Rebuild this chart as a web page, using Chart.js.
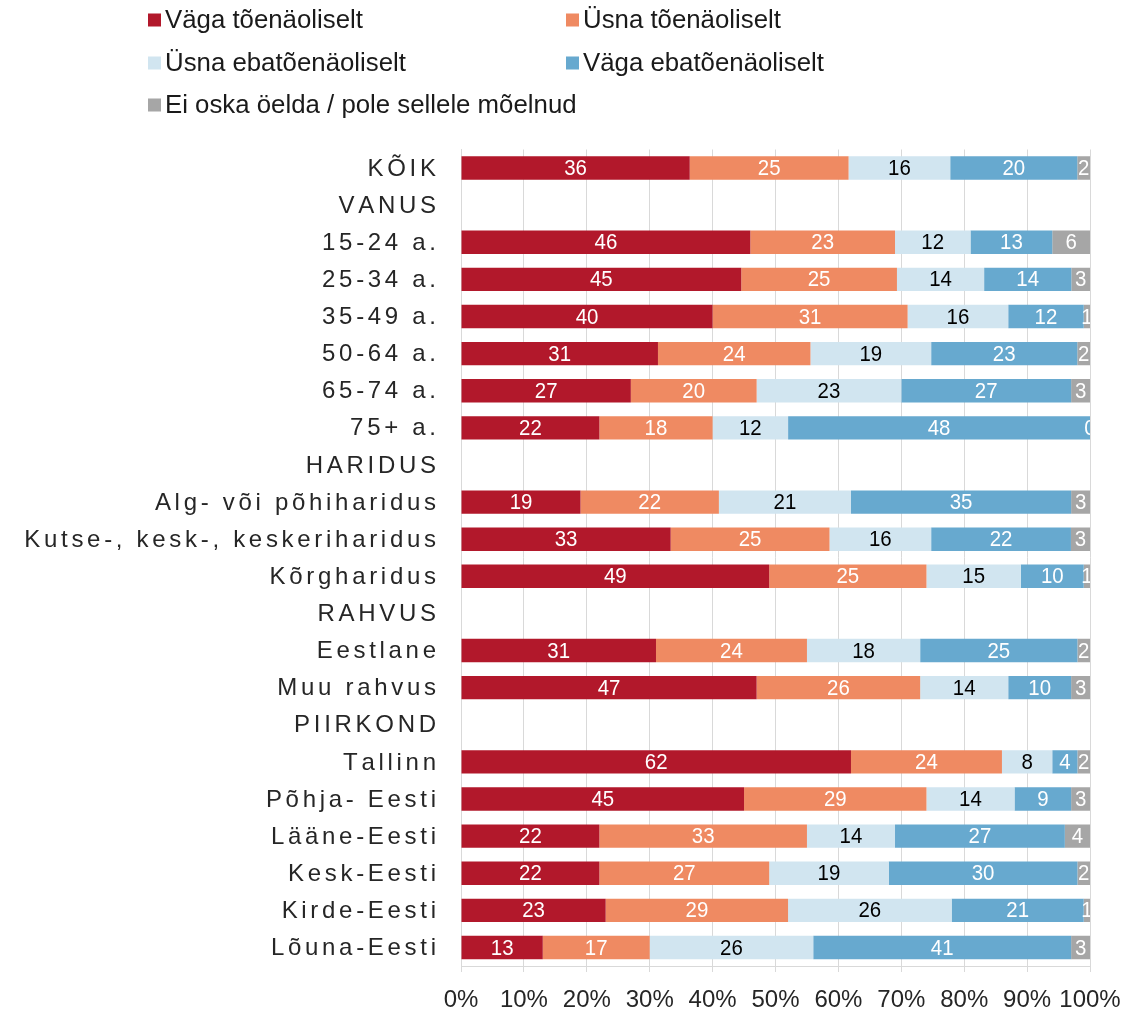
<!DOCTYPE html>
<html>
<head>
<meta charset="utf-8">
<script src="https://cdn.jsdelivr.net/npm/chart.js@4/dist/chart.umd.min.js"></script>
<style>
  html, body { margin: 0; padding: 0; background: #fff; }
  #wrap { width: 1145px; height: 1009px; position: relative; }
</style>
</head>
<body>
<div id="wrap"><canvas id="chart"></canvas></div>
<script>
// rows; group headers have no bars (null values)
const categories = [
    'KÕIK', 'VANUS', '15-24 a.', '25-34 a.', '35-49 a.', '50-64 a.', '65-74 a.', '75+ a.',
    'HARIDUS', 'Alg- või põhiharidus', 'Kutse-, kesk-, keskeriharidus', 'Kõrgharidus',
    'RAHVUS', 'Eestlane', 'Muu rahvus',
    'PIIRKOND', 'Tallinn', 'Põhja- Eesti', 'Lääne-Eesti', 'Kesk-Eesti', 'Kirde-Eesti', 'Lõuna-Eesti'
];

const seriesNames = [
    'Väga tõenäoliselt', 'Üsna tõenäoliselt', 'Üsna ebatõenäoliselt',
    'Väga ebatõenäoliselt', 'Ei oska öelda / pole sellele mõelnud'
];

const vagaToen   = [36, null, 46, 45, 40, 31, 27, 22, null, 19, 33, 49, null, 31, 47, null, 62, 45, 22, 22, 23, 13];
const usnaToen   = [25, null, 23, 25, 31, 24, 20, 18, null, 22, 25, 25, null, 24, 26, null, 24, 29, 33, 27, 29, 17];
const usnaEbat   = [16, null, 12, 14, 16, 19, 23, 12, null, 21, 16, 15, null, 18, 14, null, 8, 14, 14, 19, 26, 26];
const vagaEbat   = [20, null, 13, 14, 12, 23, 27, 48, null, 35, 22, 10, null, 25, 10, null, 4, 9, 27, 30, 21, 41];
const eiOska     = [2, null, 6, 3, 1, 2, 3, 0, null, 3, 3, 1, null, 2, 3, null, 2, 3, 4, 2, 1, 3];

const xTicks = [0, 10, 20, 30, 40, 50, 60, 70, 80, 90, 100];

const COLORS = ['#B2182B', '#EF8A62', '#D1E5F0', '#67A9CF', '#A6A6A6'];
const LABEL_COLORS = ['#fff', '#fff', '#000', '#fff', '#fff'];
const FONT = "'Liberation Sans', Arial, sans-serif";

const raw = [vagaToen, usnaToen, usnaEbat, vagaEbat, eiOska];

// 100% stacked: scale each row to its own total
const totals = categories.map((_, i) => {
    if (vagaToen[i] === null) return null;
    return raw.reduce((s, arr) => s + arr[i], 0);
});
const pct = arr => arr.map((v, i) => (v === null ? null : v / totals[i] * 100));

const datasets = raw.map((arr, k) => ({
    label: seriesNames[k],
    data: pct(arr),
    rawValues: arr,
    backgroundColor: COLORS[k],
    borderWidth: 0,
    barPercentage: 0.63,
    categoryPercentage: 1,
}));

const PLOT_LEFT = 461;
const PLOT_TOP = 149.5;
const PLOT_BOTTOM = 966;

// values inside the bars (slightly condensed), clipped to the plot area
const valueLabels = {
    id: 'valueLabels',
    afterDatasetsDraw(chart) {
        const { ctx, chartArea } = chart;
        const squeeze = 0.93;
        ctx.save();
        ctx.beginPath();
        ctx.rect(chartArea.left, chartArea.top - 20, chartArea.right - chartArea.left, chartArea.bottom - chartArea.top + 40);
        ctx.clip();
        ctx.font = '22px ' + FONT;
        ctx.textAlign = 'center';
        ctx.textBaseline = 'middle';
        chart.data.datasets.forEach((ds, k) => {
            const meta = chart.getDatasetMeta(k);
            meta.data.forEach((bar, i) => {
                const v = ds.rawValues[i];
                if (v === null) return;
                ctx.fillStyle = LABEL_COLORS[k];
                const cx = (bar.x + bar.base) / 2;
                ctx.save();
                ctx.translate(cx, bar.y + 1);
                ctx.scale(squeeze, 1);
                ctx.fillText(String(v), 0, 0);
                ctx.restore();
            });
        });
        ctx.restore();
    }
};

// category labels with wide letter spacing
const spacedYLabels = {
    id: 'spacedYLabels',
    afterDraw(chart) {
        const { ctx } = chart;
        const y = chart.scales.y;
        const spacing = 3.7;
        ctx.save();
        ctx.font = '24px ' + FONT;
        ctx.fillStyle = '#262626';
        ctx.textAlign = 'left';
        ctx.textBaseline = 'middle';
        chart.data.labels.forEach((lab, i) => {
            const chars = Array.from(lab);
            const widths = chars.map(c => ctx.measureText(c).width);
            const total = widths.reduce((a, b) => a + b, 0) + spacing * (chars.length - 1);
            let x = chart.chartArea.left - 25 - total;
            const py = y.getPixelForValue(i) + 1;
            chars.forEach((c, j) => {
                ctx.fillText(c, x, py);
                x += widths[j] + spacing;
            });
        });
        ctx.restore();
    }
};

// two-column legend above the plot
const gridLegend = {
    id: 'gridLegend',
    afterDraw(chart) {
        const { ctx } = chart;
        const colX = [148, 566];
        const rowY = [20, 63, 105];
        ctx.save();
        ctx.font = '25.8px ' + FONT;
        ctx.textBaseline = 'middle';
        ctx.textAlign = 'left';
        chart.data.datasets.forEach((ds, k) => {
            const x = colX[k % 2];
            const yy = rowY[Math.floor(k / 2)];
            ctx.fillStyle = ds.backgroundColor;
            ctx.fillRect(x, yy - 6.5, 13, 13);
            ctx.fillStyle = '#1a1a1a';
            ctx.fillText(ds.label, x + 17, yy + 1);
        });
        ctx.restore();
    }
};

new Chart(document.getElementById('chart'), {
    type: 'bar',
    data: { labels: categories, datasets },
    options: {
        indexAxis: 'y',
        responsive: true,
        maintainAspectRatio: false,
        animation: false,
        layout: { padding: { top: PLOT_TOP, right: 55, bottom: 0, left: 0 } },
        plugins: {
            legend: { display: false },
            tooltip: { enabled: false },
        },
        scales: {
            x: {
                stacked: true,
                min: 0,
                max: 100,
                afterBuildTicks: scale => { scale.ticks = xTicks.map(v => ({ value: v })); },
                afterFit: scale => { scale.height = 1009 - PLOT_BOTTOM; },
                grid: { color: '#D9D9D9', lineWidth: 1, tickLength: 6 },
                border: { color: '#D9D9D9' },
                ticks: {
                    padding: 14,
                    color: '#262626',
                    font: { family: FONT, size: 24 },
                    maxRotation: 0,
                    autoSkip: false,
                    callback: v => v + '%',
                },
            },
            y: {
                stacked: true,
                afterFit: scale => { scale.width = PLOT_LEFT; },
                grid: { display: false },
                border: { color: '#D9D9D9' },
                ticks: { display: false },
            },
        },
    },
    plugins: [valueLabels, spacedYLabels, gridLegend],
});
</script>
</body>
</html>
